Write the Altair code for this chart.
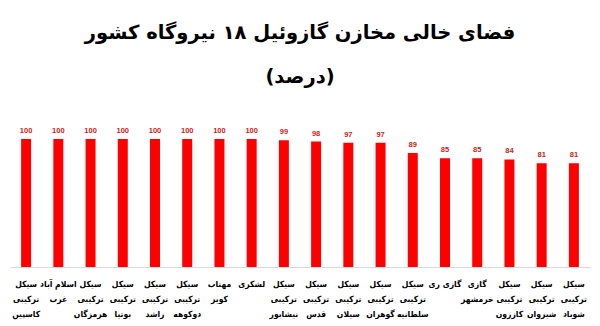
import altair as alt
import pandas as pd

stations = [
    "سیکل|ترکیبی|کاسپین",
    "اسلام آباد|غرب",
    "سیکل|ترکیبی|هرمزگان",
    "سیکل|ترکیبی|بوتیا",
    "سیکل|ترکیبی|راشد",
    "سیکل|ترکیبی|دوکوهه",
    "مهتاب|کویر",
    "لشکری",
    "سیکل|ترکیبی|نیشابور",
    "سیکل|ترکیبی|قدس",
    "سیکل|ترکیبی|سیلان",
    "سیکل|ترکیبی|گوهران",
    "سیکل|ترکیبی|سلطانیه",
    "گازی ری",
    "گازی|خرمشهر",
    "سیکل|ترکیبی|کازرون",
    "سیکل|ترکیبی|شیروان",
    "سیکل|ترکیبی|شوباد",
]
values = [100, 100, 100, 100, 100, 100, 100, 100, 99, 98, 97, 97, 89, 85, 85, 84, 81, 81]

title_lines = ["فضای خالی مخازن گازوئیل ۱۸ نیروگاه کشور", "(درصد)"]

df = pd.DataFrame({"station": stations, "value": values})

x_enc = alt.X(
    "station:N",
    sort=None,
    title=None,
    scale=alt.Scale(paddingInner=0.69, paddingOuter=0.345),
    axis=alt.Axis(
        labelExpr="split(datum.label, '|')",
        labelAngle=0,
        labelFont="DejaVu Sans Condensed",
        labelFontWeight="bold",
        labelFontSize=8.5,
        labelColor="#000000",
        labelLineHeight=15,
        labelPadding=12,
        labelLimit=200,
        labelOverlap=False,
        ticks=False,
        domainColor="#d9d9d9",
        domainWidth=1,
        grid=False,
    ),
)
y_enc = alt.Y("value:Q", scale=alt.Scale(domain=[0, 100], nice=False), axis=None)

bars = alt.Chart(df).mark_bar(color="#ff0000").encode(x=x_enc, y=y_enc)
labels = alt.Chart(df).mark_text(
    dy=-8, color="#cc2222", font="Liberation Sans", fontWeight="bold", fontSize=7.5
).encode(x=alt.X("station:N", sort=None), y="value:Q", text="value:Q")

chart = (
    alt.layer(bars, labels)
    .properties(
        width=580,
        height=128,
        autosize=alt.AutoSizeParams(type="none"),
        padding={"left": 10, "top": 139, "right": 10, "bottom": 59},
        background="#ffffff",
        title=alt.TitleParams(
            text=title_lines,
            font="DejaVu Sans",
            fontWeight="bold",
            fontSize=19.5,
            lineHeight=44,
            color="#000000",
            anchor="middle",
            offset=40,
        ),
    )
    .configure_view(stroke=None)
)

chart.save("out.html", embed_options={"renderer": "svg", "actions": False})
